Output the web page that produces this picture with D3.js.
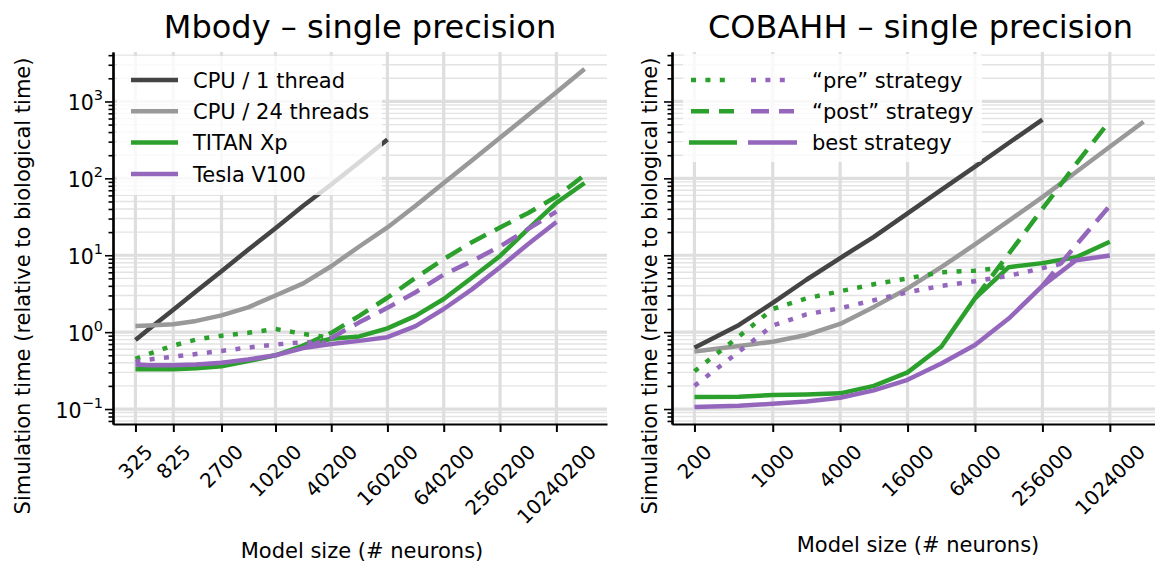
<!DOCTYPE html>
<html>
<head>
<meta charset="utf-8">
<script src="https://cdn.jsdelivr.net/npm/d3@7"></script>
<style>
  body { margin: 0; background: #fff; }
  svg { display: block; font-family: "DejaVu Sans", sans-serif; }
</style>
</head>
<body>
<svg id="chart" width="1155" height="564"></svg>
<script>
// ---- data: Mbody (model size in neurons, time relative to biological time) ----
const mbodySizes = [325, 450, 825, 1450, 2700, 5200, 10200, 20200, 40200, 80200, 160200,
  320200, 640200, 1280200, 2560200, 5120200, 10240200, 20480200]
const mbodyTicks = [325, 825, 2700, 10200, 40200, 160200, 640200, 2560200, 10240200]
const mbodyCpu1 = [0.79, 1.09, 1.95, 3.4, 6.2, 11.8, 22.5, 44, 83, 162, 320,
  null, null, null, null, null, null, null]
const mbodyCpu24 = [1.2, 1.22, 1.27, 1.4, 1.65, 2.1, 3.0, 4.3, 7.2, 13, 23,
  44, 87, 171, 337, 666, 1315, 2650]
const mbodyTitanPre = [0.45, 0.52, 0.67, 0.8, 0.9, 0.98, 1.1, 0.95, 0.84,
  null, null, null, null, null, null, null, null, null]
const mbodyTitanPost = [null, null, null, null, null, null, null, 0.67, 0.98, 1.63, 2.8,
  5.1, 8.9, 14.8, 23, 35.4, 58, 110]
const mbodyTitanBest = [0.33, 0.33, 0.33, 0.34, 0.36, 0.42, 0.5, 0.67, 0.82, 0.88, 1.12,
  1.63, 2.7, 5.1, 9.8, 22, 48, 87]
const mbodyTeslaPre = [0.41, 0.44, 0.48, 0.52, 0.57, 0.63, 0.69, 0.74, 0.72,
  null, null, null, null, null, null, null, null, null]
const mbodyTeslaPost = [null, null, null, null, null, null, null, 0.62, 0.84, 1.34, 2.07,
  3.3, 5.6, 8.4, 13, 22, 37, null]
const mbodyTeslaBest = [0.38, 0.37, 0.37, 0.38, 0.4, 0.44, 0.5, 0.62, 0.7, 0.77, 0.86,
  1.2, 2.0, 3.6, 7.0, 14, 27, null]

// ---- data: COBAHH ----
const cobaSizes = [200, 500, 1000, 2000, 4000, 8000, 16000, 32000, 64000, 128000,
  256000, 512000, 1024000, 2048000]
const cobaTicks = [200, 1000, 4000, 16000, 64000, 256000, 1024000]
const cobaCpu1 = [0.625, 1.24, 2.4, 4.8, 9.2, 17.3, 35, 71, 142, 288, 580, null, null, null]
const cobaCpu24 = [0.56, 0.66, 0.75, 0.92, 1.28, 2.13, 3.7, 7.0, 13.8, 28, 57, 121, 258, 545]
const cobaTitanPre = [0.31, 0.88, 2.0, 2.75, 3.4, 4.2, 5.0, 6.0, 6.3, 7.0, null, null, null, null]
const cobaTitanPost = [null, null, null, null, null, null, null, null, 2.75, 10.4, 40, 154, 560, null]
const cobaTitanBest = [0.143, 0.145, 0.152, 0.155, 0.16, 0.2, 0.3, 0.645, 2.75, 7.0, 7.9, 9.4, 15, null]
const cobaTeslaPre = [0.2, 0.56, 1.22, 1.7, 2.05, 2.6, 3.3, 4.0, 4.6, 5.4, 6.8, 8.6, null, null]
const cobaTeslaPost = [null, null, null, null, null, null, null, null, null, null, 4.0, 13.6, 44, null]
const cobaTeslaBest = [0.106, 0.11, 0.117, 0.125, 0.14, 0.175, 0.24, 0.39, 0.68, 1.5, 4.0, 8.6, 9.9, null]

const yTickValues = [0.1, 1, 10, 100, 1000]
const mbodyLegend = ["CPU / 1 thread", "CPU / 24 threads", "TITAN Xp", "Tesla V100"]
const cobaLegend = ["\u201cpre\u201d strategy", "\u201cpost\u201d strategy", "best strategy"]

const colors = { cpu1: "#444444", cpu24: "#999999", titan: "#2ca02c", tesla: "#9467bd" }
const dashes = { pre: "5,9.4", post: "18,10", best: null }
const lineW = 4.5

const svg = d3.select("#chart")
const plotTop = 52, plotBottom = 424

// log padding like matplotlib's 5% margins
const padLog = (lo, hi, p) => {
  const a = Math.log10(lo), b = Math.log10(hi), r = b - a
  return [Math.pow(10, a - p * r), Math.pow(10, b + p * r)]
}

// shared y axis for both panels
const allVals = [mbodyCpu1, mbodyCpu24, mbodyTitanPre, mbodyTitanPost, mbodyTitanBest,
  mbodyTeslaPre, mbodyTeslaPost, mbodyTeslaBest, cobaCpu1, cobaCpu24, cobaTitanPre,
  cobaTitanPost, cobaTitanBest, cobaTeslaPre, cobaTeslaPost, cobaTeslaBest]
  .flat().filter(v => v != null)
const y = d3.scaleLog()
  .domain(padLog(d3.min(allVals), d3.max(allVals), 0.05))
  .range([plotBottom, plotTop])

const minorY = []
for (let e = -2; e <= 4; e++) {
  for (let k = 2; k <= 9; k++) {
    const v = k * Math.pow(10, e)
    if (v > y.domain()[0] && v < y.domain()[1]) minorY.push(v)
  }
}

function drawPanel(cfg) {
  const x = d3.scaleLog()
    .domain(padLog(d3.min(cfg.sizes), d3.max(cfg.sizes), 0.05))
    .range([cfg.x0, cfg.x1])
  const g = svg.append("g")

  // grid
  g.append("g").selectAll("line").data(minorY).join("line")
    .attr("x1", cfg.x0).attr("x2", cfg.x1)
    .attr("y1", d => y(d)).attr("y2", d => y(d))
    .attr("stroke", "#e3e3e3").attr("stroke-width", 1.4)
  g.append("g").selectAll("line").data(yTickValues).join("line")
    .attr("x1", cfg.x0).attr("x2", cfg.x1)
    .attr("y1", d => y(d)).attr("y2", d => y(d))
    .attr("stroke", "#dedede").attr("stroke-width", 3.2)
  g.append("g").selectAll("line").data(cfg.ticks).join("line")
    .attr("x1", d => x(d)).attr("x2", d => x(d))
    .attr("y1", plotTop).attr("y2", plotBottom)
    .attr("stroke", "#dedede").attr("stroke-width", 3.2)

  // series
  const line = d3.line()
    .defined(d => d[1] != null)
    .x(d => x(d[0]))
    .y(d => y(d[1]))
  cfg.series.forEach(s => {
    g.append("path")
      .datum(cfg.sizes.map((n, i) => [n, s.values[i]]))
      .attr("d", line)
      .attr("fill", "none")
      .attr("stroke", s.color)
      .attr("stroke-width", lineW)
      .attr("stroke-dasharray", s.dash)
      .attr("stroke-linejoin", "round")
  })

  // axes
  const axY = g.append("g").attr("transform", `translate(${cfg.x0},0)`)
  axY.call(d3.axisLeft(y).tickValues(minorY).tickSize(4.5).tickSizeOuter(0).tickFormat(""))
  axY.append("g").call(d3.axisLeft(y).tickValues(yTickValues).tickSize(8).tickSizeOuter(0).tickFormat(""))
  axY.selectAll(".domain").attr("stroke", "#000").attr("stroke-width", 2.2)
  axY.selectAll(".tick line").attr("stroke", "#000").attr("stroke-width", 1.6)

  const axX = g.append("g").attr("transform", `translate(0,${plotBottom})`)
  axX.call(d3.axisBottom(x).tickValues(cfg.ticks).tickSize(8).tickSizeOuter(0).tickFormat(""))
  axX.select(".domain").attr("stroke", "#000").attr("stroke-width", 2.2)
  axX.selectAll(".tick line").attr("stroke", "#000").attr("stroke-width", 2)

  // rotated x tick labels, bbox centred under the tick
  cfg.ticks.forEach(t => {
    const lab = g.append("text")
      .attr("font-size", 20)
      .attr("text-anchor", "middle")
      .attr("dy", "0.36em")
      .attr("fill", "#000")
      .text(String(t))
    const L = lab.node().getComputedTextLength()
    const cy = 443 + (L + 14.6) * Math.SQRT1_2 / 2
    lab.attr("transform", `translate(${x(t)},${cy}) rotate(-45)`)
  })

  if (cfg.yLabels) {
    yTickValues.forEach(v => {
      const e = Math.round(Math.log10(v))
      const t = g.append("text")
        .attr("x", cfg.x0 - 10).attr("y", y(v) + 9)
        .attr("text-anchor", "end").attr("font-size", 20.5)
      t.append("tspan").text("10")
      t.append("tspan").attr("font-size", 14.5).attr("dy", -10)
        .text(e < 0 ? "\u2212" + (-e) : String(e))
    })
  }

  // titles and labels
  const cx = (cfg.x0 + cfg.x1) / 2
  g.append("text").attr("x", (cfg.x0 + Math.min(cfg.x1, 1155)) / 2 + cfg.titleShift).attr("y", 38)
    .attr("text-anchor", "middle").attr("font-size", 32).text(cfg.title)
  g.append("text").attr("x", cx + cfg.xlabShift).attr("y", cfg.xlabY)
    .attr("text-anchor", "middle").attr("font-size", 21).text("Model size (# neurons)")
  g.append("text")
    .attr("transform", `translate(${cfg.ylabX},286) rotate(-90)`)
    .attr("text-anchor", "middle").attr("font-size", 21)
    .text("Simulation time (relative to biological time)")

  return { g, x }
}

const left = drawPanel({
  sizes: mbodySizes, ticks: mbodyTicks, x0: 113, x1: 607,
  title: "Mbody \u2013 single precision", titleShift: 0, xlabY: 558, xlabShift: 2, ylabX: 30, yLabels: true,
  series: [
    { values: mbodyCpu1, color: colors.cpu1, dash: dashes.best },
    { values: mbodyCpu24, color: colors.cpu24, dash: dashes.best },
    { values: mbodyTitanPre, color: colors.titan, dash: dashes.pre },
    { values: mbodyTitanPost, color: colors.titan, dash: dashes.post },
    { values: mbodyTitanBest, color: colors.titan, dash: dashes.best },
    { values: mbodyTeslaPre, color: colors.tesla, dash: dashes.pre },
    { values: mbodyTeslaPost, color: colors.tesla, dash: dashes.post },
    { values: mbodyTeslaBest, color: colors.tesla, dash: dashes.best }
  ]
})

const right = drawPanel({
  sizes: cobaSizes, ticks: cobaTicks, x0: 672, x1: 1166,
  title: "COBAHH \u2013 single precision", titleShift: 7, xlabY: 552, xlabShift: -1, ylabX: 657, yLabels: false,
  series: [
    { values: cobaCpu1, color: colors.cpu1, dash: dashes.best },
    { values: cobaCpu24, color: colors.cpu24, dash: dashes.best },
    { values: cobaTitanPre, color: colors.titan, dash: dashes.pre },
    { values: cobaTitanPost, color: colors.titan, dash: dashes.post },
    { values: cobaTitanBest, color: colors.titan, dash: dashes.best },
    { values: cobaTeslaPre, color: colors.tesla, dash: dashes.pre },
    { values: cobaTeslaPost, color: colors.tesla, dash: dashes.post },
    { values: cobaTeslaBest, color: colors.tesla, dash: dashes.best }
  ]
})

// ---- legends (semi-transparent white boxes over the lines) ----
const rowY = i => 80 + i * 31.3

const legL = svg.append("g")
legL.append("rect").attr("x", 117).attr("y", 56).attr("width", 265).attr("height", 139)
  .attr("rx", 3).attr("fill", "#fff").attr("fill-opacity", 0.8)
const legColors = [colors.cpu1, colors.cpu24, colors.titan, colors.tesla]
mbodyLegend.forEach((label, i) => {
  legL.append("line").attr("x1", 131).attr("x2", 178).attr("y1", rowY(i)).attr("y2", rowY(i))
    .attr("stroke", legColors[i]).attr("stroke-width", lineW)
  legL.append("text").attr("x", 193).attr("y", rowY(i) + 7.6).attr("font-size", 21).text(label)
})

const legR = svg.append("g")
legR.append("rect").attr("x", 683).attr("y", 54).attr("width", 299).attr("height", 108)
  .attr("rx", 3).attr("fill", "#fff").attr("fill-opacity", 0.8)
const legDash = [dashes.pre, dashes.post, dashes.best]
cobaLegend.forEach((label, i) => {
  const solid = legDash[i] == null
  legR.append("line").attr("x1", solid ? 689 : 691).attr("x2", solid ? 737 : 734)
    .attr("y1", rowY(i)).attr("y2", rowY(i))
    .attr("stroke", colors.titan).attr("stroke-width", lineW).attr("stroke-dasharray", legDash[i])
  legR.append("line").attr("x1", solid ? 748 : 751).attr("x2", solid ? 797 : 794)
    .attr("y1", rowY(i)).attr("y2", rowY(i))
    .attr("stroke", colors.tesla).attr("stroke-width", lineW).attr("stroke-dasharray", legDash[i])
  legR.append("text").attr("x", 812).attr("y", rowY(i) + 7.6).attr("font-size", 21).text(label)
})
</script>
</body>
</html>
